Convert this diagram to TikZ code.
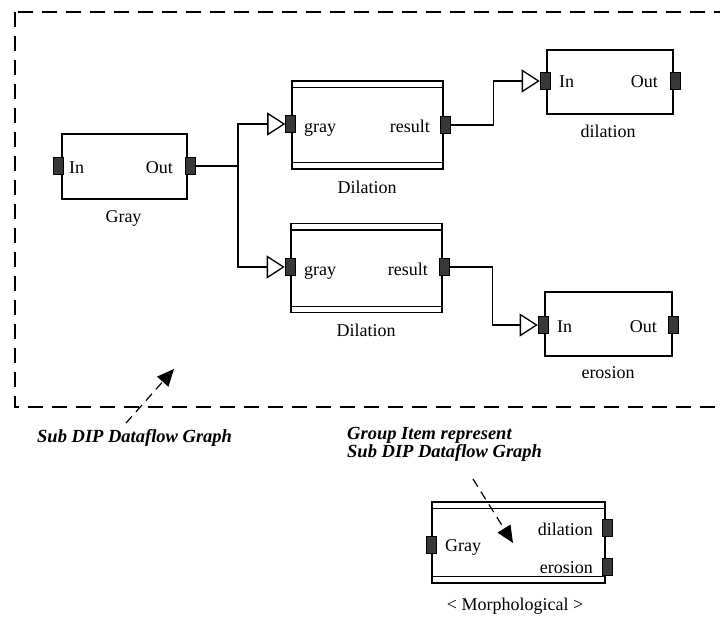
\documentclass[tikz,border=0pt]{standalone}
\usepackage{fontspec}
\setmainfont{Liberation Serif}
\usetikzlibrary{arrows.meta,calc}
\begin{document}
\begin{tikzpicture}[x=1pt,y=-1pt,
 box/.style={draw,line width=1.3pt,inner sep=0pt,fill=white},
 port/.style={draw,line width=0.6pt,fill=black!78,inner sep=0pt,minimum width=10pt,minimum height=17pt},
 txt/.style={inner sep=0pt,font=\fontsize{18}{21}\selectfont},
 note/.style={inner sep=0pt,font=\fontsize{18.5}{15}\selectfont\bfseries\itshape,align=left},
 conn/.style={line width=1.3pt},
 flow/.style={conn,-{Triangle[open,length=18pt,width=23pt]}},
 frame/.style={line width=1.4pt,dash pattern=on 15pt off 9pt},
 pointer/.style={line width=1.2pt,dash pattern=on 9pt off 6pt,-{Triangle[length=17pt,width=15pt]}},
 dbl/.style={line width=1.3pt}
]
\path[use as bounding box,fill=white] (0,0) rectangle (720,623);
\begin{scope}
\clip (0,0) rectangle (720,623);
\draw[frame] (15,12) rectangle (745,407);
\end{scope}

% Gray
\node[box,minimum width=125pt,minimum height=65pt] (gray) at (124.5,166.5) {};
\node[port] (grin) at (58,166) {};
\node[port] (grout) at (190,166) {};
\node[txt,anchor=base west] (grinl) at (69,173) {In};
\node[txt,anchor=base east] (groutl) at (173,173) {Out};
\node[txt,anchor=base] (grayl) at (123.5,222.5) {Gray};

% Dilation (top)
\node[box,minimum width=151pt,minimum height=88pt] (d1) at (367.5,125) {};
\draw[dbl] ($(d1.north west)+(0,7)$) -- ($(d1.north east)+(0,7)$);
\draw[dbl] ($(d1.south west)+(0,-7)$) -- ($(d1.south east)+(0,-7)$);
\node[port] (d1in) at (290.5,124) {};
\node[port] (d1res) at (445,125) {};
\node[txt,anchor=base west] (d1inl) at (304,132) {gray};
\node[txt,anchor=base east] (d1resl) at (430,132) {result};
\node[txt,anchor=base] (d1l) at (367,193) {Dilation};

% dilation
\node[box,minimum width=126pt,minimum height=64pt] (dil) at (610,82) {};
\node[port] (dilin) at (545,81) {};
\node[port] (dilout) at (675,81) {};
\node[txt,anchor=base west] (dilinl) at (559,88) {In};
\node[txt,anchor=base east] (diloutl) at (658,88) {Out};
\node[txt,anchor=base] (dill) at (608,138) {dilation};

% Dilation (bottom)
\node[box,minimum width=151pt,minimum height=89pt] (d2) at (366.5,268) {};
\draw[dbl] ($(d2.north west)+(0,7)$) -- ($(d2.north east)+(0,7)$);
\draw[dbl] ($(d2.south west)+(0,-7)$) -- ($(d2.south east)+(0,-7)$);
\node[port] (d2in) at (290,267) {};
\node[port] (d2res) at (444,267) {};
\node[txt,anchor=base west] (d2inl) at (304,275) {gray};
\node[txt,anchor=base east] (d2resl) at (428,275) {result};
\node[txt,anchor=base] (d2l) at (366,336) {Dilation};

% erosion
\node[box,minimum width=127pt,minimum height=64pt] (ero) at (608.5,324) {};
\node[port] (eroin) at (543,325) {};
\node[port] (eroout) at (673,325) {};
\node[txt,anchor=base west] (eroinl) at (557,332) {In};
\node[txt,anchor=base east] (erooutl) at (657,332) {Out};
\node[txt,anchor=base] (erol) at (608,378) {erosion};

% connectors
\coordinate (j) at (238,166);
\draw[conn] (grout.east) -- (j);
\draw[flow] (j) |- (d1in.west);
\draw[flow] (j) |- (d2in.west);
\draw[flow] (d1res.east) -- ++(43,0) |- (dilin.west);
\draw[flow] (d2res.east) -- ++(43,0) |- (eroin.west);

% notes
\node[note,anchor=base west] (sub) at (37,442) {Sub DIP Dataflow Graph};
\coordinate (p1s) at (126,423);
\coordinate (p1e) at (174,369);
\draw[pointer] (p1s) -- (p1e);

\node[note,anchor=base west] (grp) at (347,457) {Group Item represent\\Sub DIP Dataflow Graph};
\coordinate (p2s) at (473,479);
\coordinate (p2e) at (513,543);
\draw[pointer] (p2s) -- (p2e);

% Morphological
\node[box,fill=none,minimum width=173pt,minimum height=81pt] (mor) at (518.5,542.5) {};
\draw[dbl] ($(mor.north west)+(0,7)$) -- ($(mor.north east)+(0,7)$);
\draw[dbl] ($(mor.south west)+(0,-7)$) -- ($(mor.south east)+(0,-7)$);
\node[port] (morin) at (431,545) {};
\node[port] (mordil) at (607,528) {};
\node[port] (morero) at (607,567) {};
\node[txt,anchor=base west] (morinl) at (445,551) {Gray};
\node[txt,anchor=base east] (mordill) at (593,535) {dilation};
\node[txt,anchor=base east] (morerol) at (593,573) {erosion};
\node[txt,anchor=base] (morl) at (515,610) {< Morphological >};
\end{tikzpicture}
\end{document}
